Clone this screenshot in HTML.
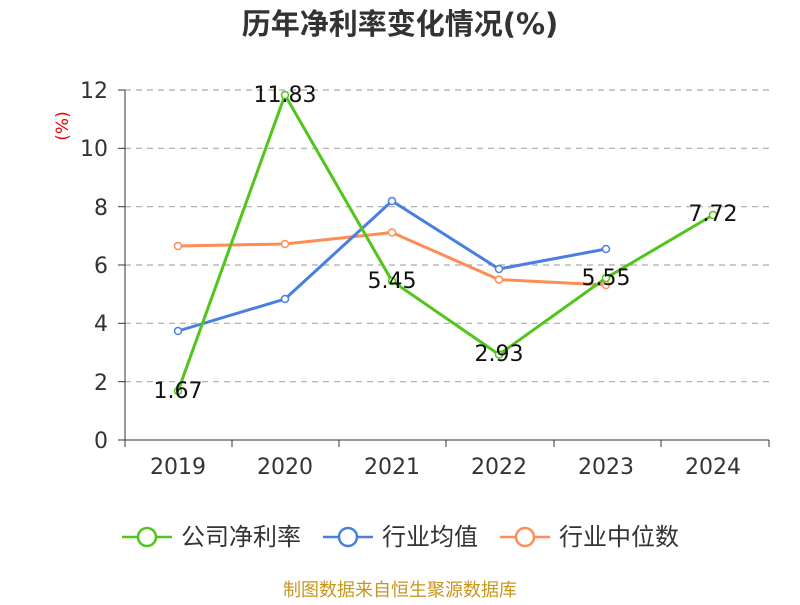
<!DOCTYPE html>
<html><head><meta charset="utf-8"><style>
body{margin:0;background:#fff;}
svg text{font-family:"DejaVu Sans","Noto Sans CJK SC",sans-serif;}
</style></head><body>
<svg width="800" height="600" viewBox="0 0 800 600" xmlns="http://www.w3.org/2000/svg">
<rect width="800" height="600" fill="#fff"/>
<text x="400" y="34" text-anchor="middle" font-size="29" font-weight="bold" fill="#333" font-family="Noto Sans CJK SC, sans-serif">历年净利率变化情况(%)</text>
<text x="68" y="126" font-size="17" fill="#e00" transform="rotate(-90 68 126)" text-anchor="middle">(%)</text>
<g stroke="#aaa" stroke-dasharray="6,5" stroke-width="1.2">
<line x1="125" x2="769" y1="90" y2="90"/><line x1="125" x2="769" y1="148.3" y2="148.3"/>
<line x1="125" x2="769" y1="206.7" y2="206.7"/><line x1="125" x2="769" y1="265" y2="265"/>
<line x1="125" x2="769" y1="323.3" y2="323.3"/><line x1="125" x2="769" y1="381.7" y2="381.7"/>
</g>
<g stroke="#333" stroke-width="1">
<line x1="125" x2="125" y1="90" y2="440"/><line x1="125" x2="769" y1="440" y2="440"/>
<line x1="118" x2="125" y1="90" y2="90"/><line x1="118" x2="125" y1="148.3" y2="148.3"/><line x1="118" x2="125" y1="206.7" y2="206.7"/><line x1="118" x2="125" y1="265" y2="265"/><line x1="118" x2="125" y1="323.3" y2="323.3"/><line x1="118" x2="125" y1="381.7" y2="381.7"/><line x1="118" x2="125" y1="440" y2="440"/>
<line x1="125" x2="125" y1="440" y2="447"/><line x1="232" x2="232" y1="440" y2="447"/><line x1="339" x2="339" y1="440" y2="447"/><line x1="446" x2="446" y1="440" y2="447"/><line x1="554" x2="554" y1="440" y2="447"/><line x1="661" x2="661" y1="440" y2="447"/><line x1="769" x2="769" y1="440" y2="447"/>
</g>
<g font-size="22" fill="#333" text-anchor="end">
<text x="108" y="98">12</text><text x="108" y="156">10</text><text x="108" y="215">8</text><text x="108" y="273">6</text><text x="108" y="331">4</text><text x="108" y="390">2</text><text x="108" y="448">0</text>
</g>
<g font-size="22" fill="#333" text-anchor="middle">
<text x="178" y="474">2019</text><text x="285" y="474">2020</text><text x="392" y="474">2021</text><text x="499" y="474">2022</text><text x="606" y="474">2023</text><text x="713" y="474">2024</text>
</g>
<polyline fill="none" stroke="#ff8c55" stroke-width="3" points="178,246 285,244 392,232.5 499,279.6 606,285"/>
<polyline fill="none" stroke="#4a7fe0" stroke-width="3" points="178,331 285,299 392,201 499,269 606,249"/>
<polyline fill="none" stroke="#52c41a" stroke-width="3" points="178,391 285,95 392,281 499,354.5 606,278 713,215"/>
<g fill="#fff" stroke-width="1.5">
<g stroke="#ff8c55"><circle cx="178" cy="246" r="3.5"/><circle cx="285" cy="244" r="3.5"/><circle cx="392" cy="232.5" r="3.5"/><circle cx="499" cy="279.6" r="3.5"/><circle cx="606" cy="285" r="3.5"/></g>
<g stroke="#4a7fe0"><circle cx="178" cy="331" r="3.5"/><circle cx="285" cy="299" r="3.5"/><circle cx="392" cy="201" r="3.5"/><circle cx="499" cy="269" r="3.5"/><circle cx="606" cy="249" r="3.5"/></g>
<g stroke="#52c41a"><circle cx="178" cy="391" r="3.5"/><circle cx="285" cy="95" r="3.5"/><circle cx="392" cy="281" r="3.5"/><circle cx="499" cy="354.5" r="3.5"/><circle cx="606" cy="278" r="3.5"/><circle cx="713" cy="215" r="3.5"/></g>
</g>
<g font-size="22" fill="#111" text-anchor="middle">
<text x="178" y="398">1.67</text><text x="285" y="102">11.83</text><text x="392" y="288">5.45</text><text x="499" y="361">2.93</text><text x="606" y="285">5.55</text><text x="713" y="221">7.72</text>
</g>
<g stroke-width="2.5" fill="#fff">
<line x1="122" x2="172" y1="537" y2="537" stroke="#52c41a"/><circle cx="147" cy="537" r="9" stroke="#52c41a"/>
<line x1="323" x2="373" y1="537" y2="537" stroke="#4a7fe0"/><circle cx="348" cy="537" r="9" stroke="#4a7fe0"/>
<line x1="500" x2="550" y1="537" y2="537" stroke="#ff8c55"/><circle cx="525" cy="537" r="9" stroke="#ff8c55"/>
</g>
<g font-size="24" fill="#333">
<text x="181" y="545">公司净利率</text><text x="382" y="545">行业均值</text><text x="559" y="545">行业中位数</text>
</g>
<text x="400" y="596" text-anchor="middle" font-size="18" fill="#c8961e">制图数据来自恒生聚源数据库</text>
</svg>
</body></html>
